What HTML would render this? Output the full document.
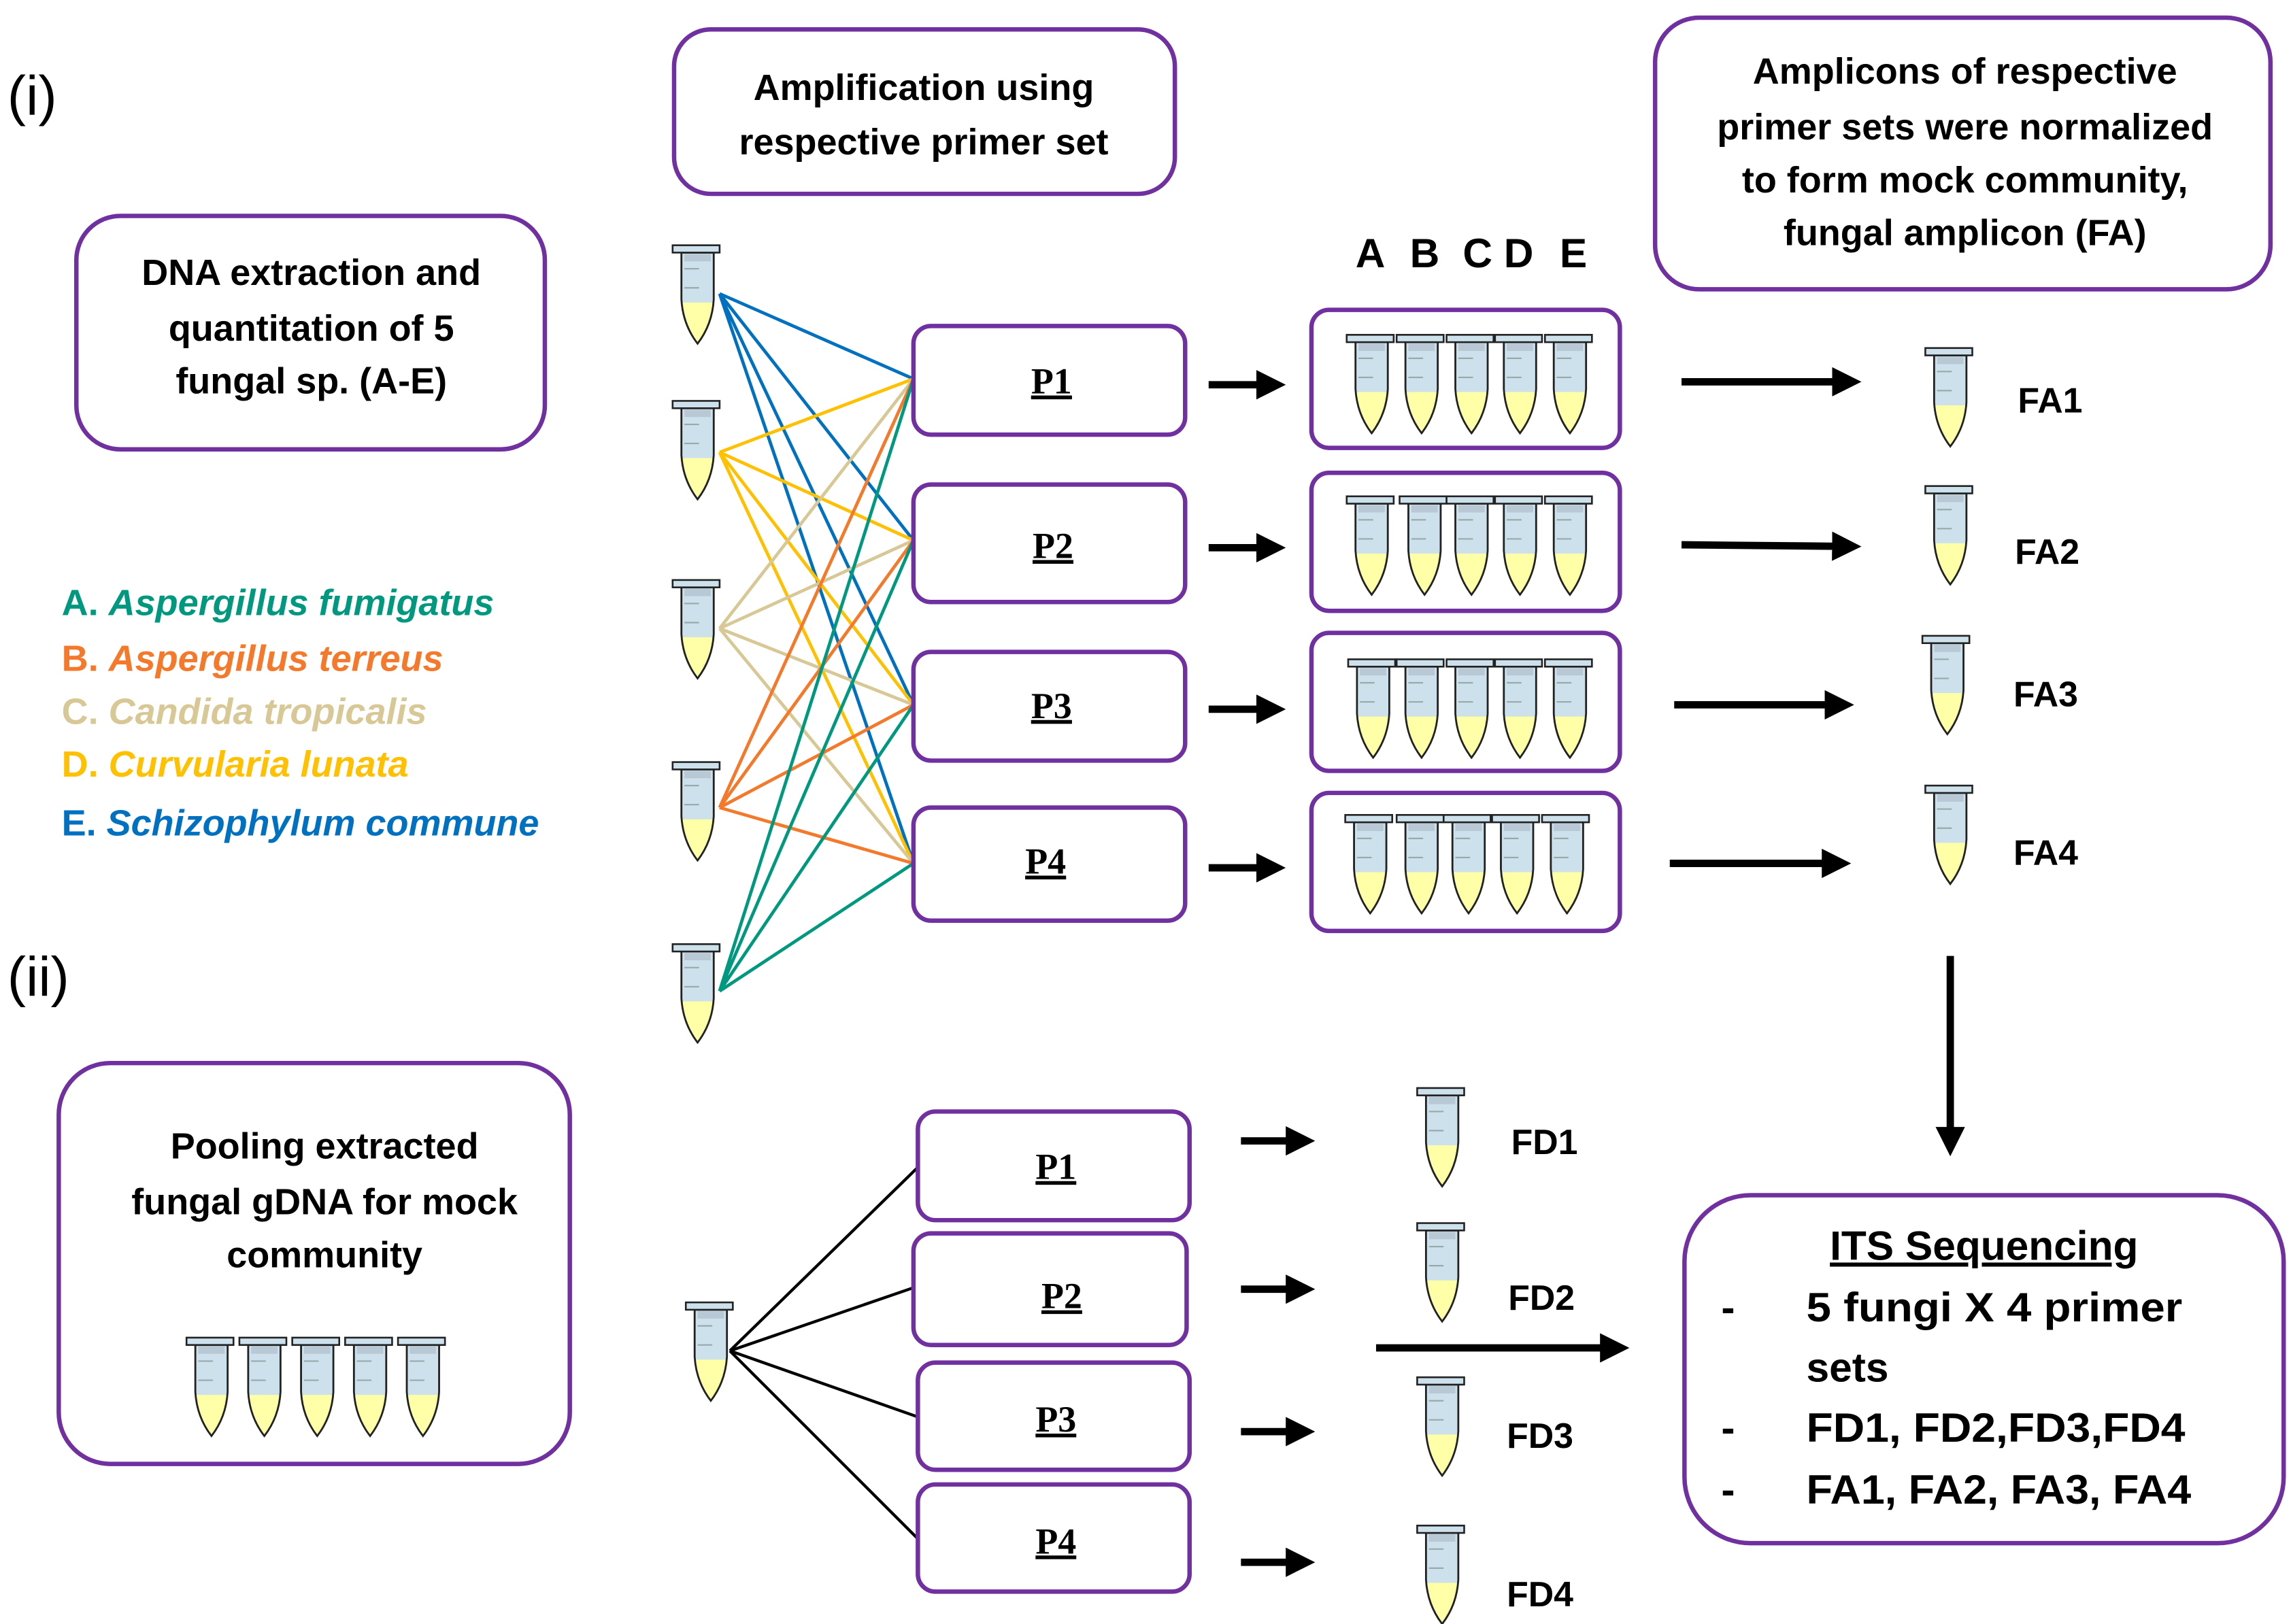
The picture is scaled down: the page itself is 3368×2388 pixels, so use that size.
<!DOCTYPE html>
<html><head><meta charset="utf-8"><style>
html,body{margin:0;padding:0;background:#fff;}
svg{display:block;}
text{font-family:"Liberation Sans",sans-serif;font-weight:bold;}
.b{fill:none;stroke:#7030A0;stroke-width:3;}
.p{font-family:"Liberation Serif",serif;font-size:25px;text-decoration:underline;}
</style></head><body>
<svg width="3368" height="2388" viewBox="0 0 1560 1106" xmlns="http://www.w3.org/2000/svg">
<defs>
<g id="t">
<path d="M6,6 L28,6 L28,38 Q27,55 17,68 Q7,55 6,38 Z" fill="#cde1ec"/>
<path d="M6.5,40 L27.5,40 Q26.5,55 17,67.5 Q7.5,55 6.5,40 Z" fill="#ffffa8"/>
<path d="M6,6 L28,6 L28,38 Q27,55 17,68 Q7,55 6,38 Z" fill="none" stroke="#222" stroke-width="1.3"/>
<rect x="8" y="7" width="18" height="5" fill="#b8c8d4"/>
<line x1="8" y1="17" x2="18" y2="17" stroke="#9aa" stroke-width="1"/>
<line x1="8" y1="30" x2="18" y2="30" stroke="#9aa" stroke-width="1"/>
<rect x="0" y="1" width="32" height="5" fill="#cde1ec" stroke="#222" stroke-width="1.2"/>
</g>
<marker id="ah" markerWidth="4" markerHeight="4" refX="0.5" refY="2" orient="auto" markerUnits="strokeWidth"><path d="M0,0 L4,2 L0,4 Z" fill="#000"/></marker>
</defs>

<text x="5" y="78" style="font-weight:normal" font-size="38">(i)</text>
<text x="5" y="678" style="font-weight:normal" font-size="38">(ii)</text>

<!-- top boxes -->
<rect class="b" x="459" y="20" width="341" height="112" rx="25"/>
<text x="629" y="68" font-size="25" text-anchor="middle">Amplification using</text>
<text x="629" y="105" font-size="25" text-anchor="middle">respective primer set</text>

<rect class="b" x="1127" y="12" width="419" height="185" rx="30"/>
<g font-size="25" text-anchor="middle">
<text x="1338" y="57">Amplicons of respective</text>
<text x="1338" y="95">primer sets were normalized</text>
<text x="1338" y="131">to form mock community,</text>
<text x="1338" y="167">fungal amplicon (FA)</text>
</g>

<rect class="b" x="52" y="147" width="319" height="159" rx="30"/>
<g font-size="25" text-anchor="middle">
<text x="212" y="194">DNA extraction and</text>
<text x="212" y="232">quantitation of 5</text>
<text x="212" y="268">fungal sp. (A-E)</text>
</g>

<g font-size="25">
<text x="42" y="419" fill="#009980">A. <tspan font-style="italic">Aspergillus fumigatus</tspan></text>
<text x="42" y="457" fill="#f4792a">B. <tspan font-style="italic">Aspergillus terreus</tspan></text>
<text x="42" y="493" fill="#d8c896">C. <tspan font-style="italic">Candida tropicalis</tspan></text>
<text x="42" y="529" fill="#ffc000">D. <tspan font-style="italic">Curvularia lunata</tspan></text>
<text x="42" y="569" fill="#0070c0">E. <tspan font-style="italic">Schizophylum commune</tspan></text>
</g>

<!-- connection lines -->
<g stroke-width="2.2" fill="none">
<g stroke="#0070c0"><path d="M490,200 L622,258 M490,200 L622,368 M490,200 L622,480 M490,200 L622,588"/></g>
<g stroke="#ffc000"><path d="M490,308 L622,258 M490,308 L622,368 M490,308 L622,480 M490,308 L622,588"/></g>
<g stroke="#d8c896"><path d="M490,428 L622,258 M490,428 L622,368 M490,428 L622,480 M490,428 L622,588"/></g>
<g stroke="#f4792a"><path d="M490,550 L622,258 M490,550 L622,368 M490,550 L622,480 M490,550 L622,588"/></g>
<g stroke="#009980"><path d="M490,675 L622,258 M490,675 L622,368 M490,675 L622,480 M490,675 L622,588"/></g>
</g>

<use href="#t" x="458" y="166"/>
<use href="#t" x="458" y="272"/>
<use href="#t" x="458" y="394"/>
<use href="#t" x="458" y="518"/>
<use href="#t" x="458" y="642"/>

<!-- P boxes top -->
<g fill="#fff">
<rect class="b" x="622" y="222" width="185" height="74" rx="12"/>
<rect class="b" x="622" y="330" width="185" height="80" rx="12"/>
<rect class="b" x="622" y="444" width="185" height="74" rx="12"/>
<rect class="b" x="622" y="550" width="185" height="77" rx="12"/>
</g>
<g class="p" text-anchor="middle">
<text class="p" x="716" y="268">P1</text>
<text class="p" x="717" y="380">P2</text>
<text class="p" x="716" y="489">P3</text>
<text class="p" x="712" y="595">P4</text>
</g>

<g font-size="28" style="font-weight:normal">
<text x="923" y="182">A</text><text x="960" y="182">B</text><text x="996" y="182">C</text><text x="1024" y="182">D</text><text x="1062" y="182">E</text>
</g>

<!-- arrows -->
<g stroke="#000" stroke-width="5" marker-end="url(#ah)">
<line x1="823" y1="262" x2="858" y2="262"/>
<line x1="823" y1="373" x2="858" y2="373"/>
<line x1="823" y1="483" x2="858" y2="483"/>
<line x1="823" y1="591" x2="858" y2="591"/>
<line x1="1145" y1="260" x2="1250" y2="260"/>
<line x1="1145" y1="371" x2="1250" y2="372"/>
<line x1="1140" y1="480" x2="1245" y2="480"/>
<line x1="1137" y1="588" x2="1243" y2="588"/>
<line x1="1328" y1="651" x2="1328" y2="770"/>
<line x1="845" y1="777" x2="878" y2="777"/>
<line x1="845" y1="878" x2="878" y2="878"/>
<line x1="845" y1="975" x2="878" y2="975"/>
<line x1="845" y1="1064" x2="878" y2="1064"/>
<line x1="937" y1="918" x2="1092" y2="918"/>
</g>

<!-- tube groups -->
<g>
<rect class="b" x="893" y="211" width="210" height="94" rx="12"/>
<rect class="b" x="893" y="322" width="210" height="94" rx="12"/>
<rect class="b" x="893" y="431" width="210" height="94" rx="12"/>
<rect class="b" x="893" y="540" width="210" height="94" rx="12"/>
</g>
<g>
<use href="#t" x="917" y="227"/><use href="#t" x="951" y="227"/><use href="#t" x="985" y="227"/><use href="#t" x="1018" y="227"/><use href="#t" x="1052" y="227"/>
<use href="#t" x="917" y="337"/><use href="#t" x="953" y="337"/><use href="#t" x="985" y="337"/><use href="#t" x="1018" y="337"/><use href="#t" x="1052" y="337"/>
<use href="#t" x="918" y="448"/><use href="#t" x="951" y="448"/><use href="#t" x="985" y="448"/><use href="#t" x="1018" y="448"/><use href="#t" x="1052" y="448"/>
<use href="#t" x="916" y="554"/><use href="#t" x="951" y="554"/><use href="#t" x="983" y="554"/><use href="#t" x="1016" y="554"/><use href="#t" x="1050" y="554"/>
</g>

<use href="#t" x="1311" y="236"/>
<use href="#t" x="1311" y="330"/>
<use href="#t" x="1309" y="432"/>
<use href="#t" x="1311" y="534"/>
<g font-size="24">
<text x="1374" y="281">FA1</text>
<text x="1372" y="384">FA2</text>
<text x="1371" y="481">FA3</text>
<text x="1371" y="589">FA4</text>
</g>

<!-- bottom section -->
<rect class="b" x="40" y="724" width="348" height="273" rx="35"/>
<g font-size="25" text-anchor="middle">
<text x="221" y="789">Pooling extracted</text>
<text x="221" y="827">fungal gDNA for mock</text>
<text x="221" y="863">community</text>
</g>
<use href="#t" x="127" y="910"/><use href="#t" x="163" y="910"/><use href="#t" x="199" y="910"/><use href="#t" x="235" y="910"/><use href="#t" x="271" y="910"/>

<g stroke="#000" stroke-width="2">
<line x1="497" y1="920" x2="625" y2="795"/>
<line x1="497" y1="920" x2="622" y2="877"/>
<line x1="497" y1="920" x2="625" y2="965"/>
<line x1="497" y1="920" x2="625" y2="1048"/>
</g>
<use href="#t" x="467" y="886"/>

<g fill="#fff">
<rect class="b" x="625" y="757" width="185" height="74" rx="12"/>
<rect class="b" x="622" y="840" width="186" height="76" rx="12"/>
<rect class="b" x="625" y="928" width="185" height="73" rx="12"/>
<rect class="b" x="625" y="1011" width="185" height="73" rx="12"/>
</g>
<text class="p" x="719" y="803" text-anchor="middle">P1</text>
<text class="p" x="723" y="891" text-anchor="middle">P2</text>
<text class="p" x="719" y="975" text-anchor="middle">P3</text>
<text class="p" x="719" y="1058" text-anchor="middle">P4</text>

<use href="#t" x="965" y="740"/>
<use href="#t" x="965" y="832"/>
<use href="#t" x="965" y="937"/>
<use href="#t" x="965" y="1038"/>
<g font-size="24">
<text x="1029" y="786">FD1</text>
<text x="1027" y="892">FD2</text>
<text x="1026" y="986">FD3</text>
<text x="1026" y="1094">FD4</text>
</g>

<rect class="b" x="1147" y="814" width="408" height="237" rx="45"/>
<text x="1351" y="858" font-size="28" text-anchor="middle" text-decoration="underline">ITS  Sequencing</text>
<g font-size="28">
<text x="1172" y="900">-</text><text x="1230" y="900" textLength="256" lengthAdjust="spacingAndGlyphs">5 fungi X 4 primer</text>
<text x="1230" y="941">sets</text>
<text x="1172" y="982">-</text><text x="1230" y="982" textLength="258" lengthAdjust="spacingAndGlyphs">FD1, FD2,FD3,FD4</text>
<text x="1172" y="1024">-</text><text x="1230" y="1024" textLength="262" lengthAdjust="spacingAndGlyphs">FA1, FA2, FA3, FA4</text>
</g>
</svg>
</body></html>
